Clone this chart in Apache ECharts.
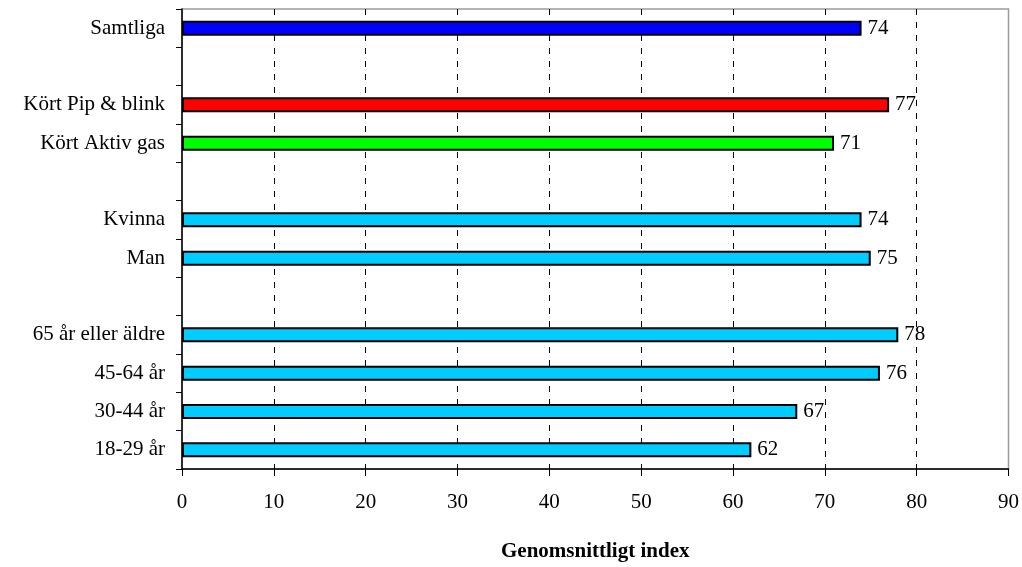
<!DOCTYPE html>
<html>
<head>
<meta charset="utf-8">
<script src="https://cdn.jsdelivr.net/npm/echarts@6/dist/echarts.min.js"></script>
<style>html,body{margin:0;padding:0;background:#fff;}#c{width:1022px;height:567px;}</style>
</head>
<body>
<div id="c"></div>
<script>
var categories = ['Samtliga', '', 'Kört Pip & blink', 'Kört Aktiv gas', ' ', 'Kvinna', 'Man', '  ', '65 år eller äldre', '45-64 år', '30-44 år', '18-29 år'];
var values = [74, null, 77, 71, null, 74, 75, null, 78, 76, 67, 62];
var colors = ['#0000FF', null, '#FF0000', '#00FF00', null, '#00CCFF', '#00CCFF', null, '#00CCFF', '#00CCFF', '#00CCFF', '#00CCFF'];
var xTicks = [0, 10, 20, 30, 40, 50, 60, 70, 80, 90];
var axisName = 'Genomsnittligt index';

var font = '"Liberation Serif", "Times New Roman", serif';
var data = values.map(function (v, i) {
  return { value: v, itemStyle: { color: colors[i] || '#fff' } };
});
var chart = echarts.init(document.getElementById('c'));
chart.setOption({
  animation: false,
  backgroundColor: '#fff',
  grid: { left: 182, right: 13, top: 9, bottom: 85, show: true, borderColor: '#9a9a9a', borderWidth: 1.5, backgroundColor: 'transparent' },
  xAxis: {
    type: 'value', min: xTicks[0], max: xTicks[xTicks.length - 1], interval: 10,
    name: axisName, nameLocation: 'middle', nameGap: 72,
    nameTextStyle: { fontFamily: font, fontSize: 21, fontWeight: 'bold', color: '#000' },
    axisLine: { show: true, lineStyle: { color: '#000', width: 1.5 } },
    axisTick: { show: true, length: 7, inside: false, lineStyle: { color: '#000', width: 1 } },
    axisLabel: { fontFamily: font, fontSize: 21, color: '#000', margin: 23 },
    splitLine: { show: true, showMinLine: false, showMaxLine: false, lineStyle: { color: '#000', type: [6, 7], width: 1 } }
  },
  yAxis: {
    type: 'category', data: categories, inverse: true,
    axisLine: { show: true, lineStyle: { color: '#000', width: 1.5 } },
    axisTick: { show: true, length: 6, inside: false, alignWithLabel: false, lineStyle: { color: '#000', width: 1 } },
    axisLabel: { fontFamily: font, fontSize: 21, color: '#000', margin: 17 },
    splitLine: { show: false }
  },
  series: [{
    type: 'bar', data: data, barWidth: 15,
    itemStyle: { borderColor: '#000', borderWidth: 2 },
    label: { show: true, position: 'right', distance: 6, fontFamily: font, fontSize: 21, color: '#000' }
  }]
});
</script>
</body>
</html>
